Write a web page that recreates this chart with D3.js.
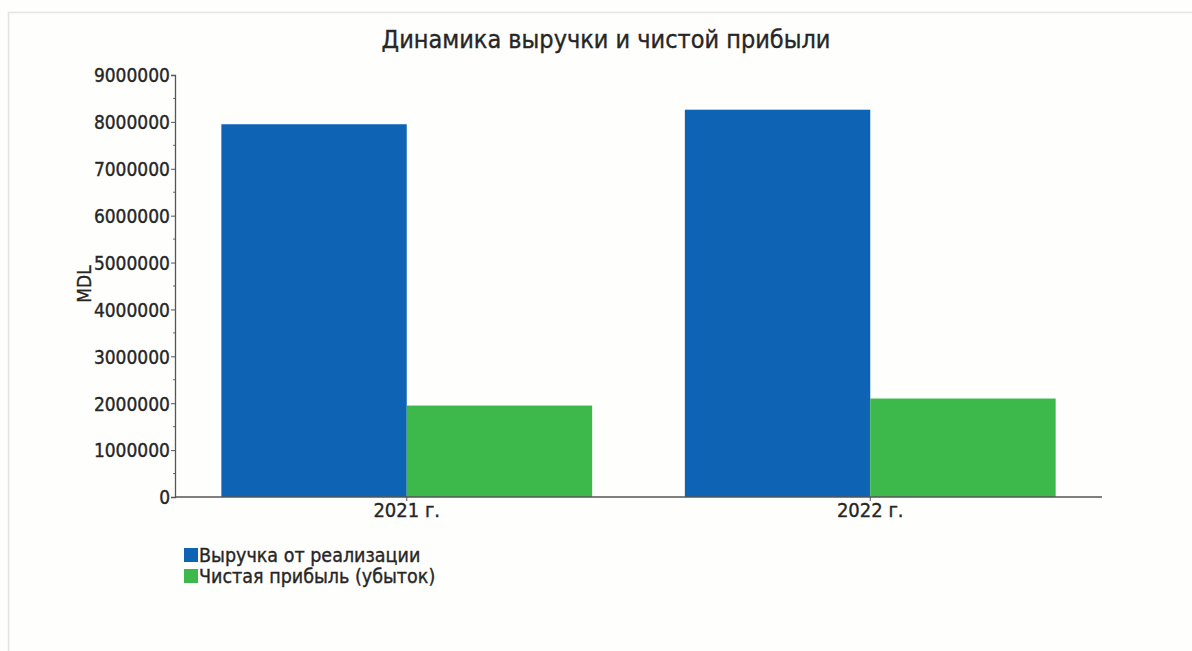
<!DOCTYPE html>
<html>
<head>
<meta charset="utf-8">
<script src="https://cdn.jsdelivr.net/npm/d3@7"></script>
<style>
  html, body { margin: 0; padding: 0; background: #fefefc; }
  svg { display: block; }
  text { font-family: "DejaVu Sans Condensed", "DejaVu Sans", sans-serif; fill: #262626; stroke: #262626; stroke-width: 0.35px; }
</style>
</head>
<body>
<svg id="chart" width="1192" height="651"></svg>
<script>
// Revenue and net profit by year, MDL
const years = ["2021 г.", "2022 г."];
const seriesNames = ["Выручка от реализации", "Чистая прибыль (убыток)"];
const revenue = [7950000, 8260000];
const netProfit = [1950000, 2100000];
const yTicks = [0, 1000000, 2000000, 3000000, 4000000, 5000000, 6000000, 7000000, 8000000, 9000000];
const colors = ["#0f63b5", "#3db94b"];

const svg = d3.select("#chart");
const W = 1192, H = 651;
const m = { left: 175, right: 90, top: 75, bottom: 154 };

// faint frame around the chart area
svg.append("path")
  .attr("d", `M8.5,651 L8.5,12.5 L1192,12.5`)
  .attr("fill", "none").attr("stroke", "#e4e4e4").attr("stroke-width", 1.5);

const x0 = d3.scaleBand().domain(years).range([m.left, W - m.right]).paddingInner(0.2).paddingOuter(0.1);
const x1 = d3.scaleBand().domain(seriesNames).range([0, x0.bandwidth()]);
const y = d3.scaleLinear().domain([0, 9000000]).range([H - m.bottom, m.top]);

const rows = years.map((yr, i) => ({ year: yr, values: [revenue[i], netProfit[i]] }));

// bars
const g = svg.append("g").selectAll("g").data(rows).join("g")
  .attr("transform", d => `translate(${x0(d.year)},0)`);
g.selectAll("rect").data(d => d.values.map((v, k) => ({ v, k }))).join("rect")
  .attr("x", d => x1(seriesNames[d.k]))
  .attr("width", x1.bandwidth())
  .attr("y", d => y(d.v))
  .attr("height", d => y(0) - y(d.v))
  .attr("fill", d => colors[d.k]);

// minor ticks halfway between labelled values
const minor = d3.range(500000, 9000000, 1000000);
svg.append("g").selectAll("line").data(minor).join("line")
  .attr("x1", m.left - 2).attr("x2", m.left)
  .attr("y1", d => y(d)).attr("y2", d => y(d))
  .attr("stroke", "#6a6a6a");

// y axis
const yAxis = svg.append("g").attr("transform", `translate(${m.left},0)`)
  .call(d3.axisLeft(y).tickValues(yTicks).tickFormat(d3.format("d")).tickSize(4).tickPadding(1));
yAxis.select(".domain").attr("stroke", "#555").attr("stroke-width", 1.3);
yAxis.selectAll(".tick line").attr("stroke", "#555");
yAxis.selectAll("text").style("font-size", "19px").attr("fill", "#262626").attr("dy", "0.36em");

// x axis
const xAxis = svg.append("g").attr("transform", `translate(0,${y(0)})`)
  .call(d3.axisBottom(x0).tickSize(4).tickSizeOuter(0).tickPadding(2));
xAxis.select(".domain").attr("stroke", "#555").attr("stroke-width", 1.3)
  .attr("d", `M${m.left},0H${W - m.right}`);
xAxis.selectAll(".tick line").attr("stroke", "#555");
xAxis.selectAll("text").style("font-size", "20px").attr("fill", "#262626");

// title
svg.append("text").attr("x", 606).attr("y", 48).attr("text-anchor", "middle")
  .style("font-size", "25px").text("Динамика выручки и чистой прибыли");

// axis caption
svg.append("text").attr("transform", `translate(91,${(y(0) + y(9000000)) / 2 - 2}) rotate(-90)`)
  .attr("text-anchor", "middle").style("font-size", "19px").text("MDL");

// legend
const lg = svg.append("g").attr("transform", "translate(184,548)");
seriesNames.forEach((name, i) => {
  lg.append("rect").attr("x", 0).attr("y", i * 21).attr("width", 14).attr("height", 14).attr("fill", colors[i]);
  lg.append("text").attr("x", 15).attr("y", i * 21 + 14).style("font-size", "19.5px").text(name);
});
</script>
</body>
</html>
